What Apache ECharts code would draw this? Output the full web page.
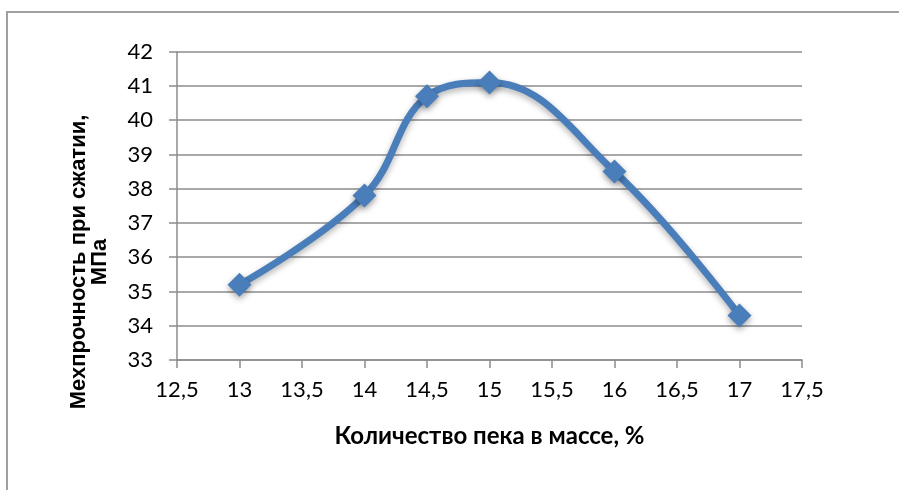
<!DOCTYPE html>
<html>
<head>
<meta charset="utf-8">
<script src="https://cdn.jsdelivr.net/npm/echarts@6/dist/echarts.min.js"></script>
<style>
  html, body { margin: 0; padding: 0; background: #ffffff; }
  #chart { width: 899px; height: 490px; }
</style>
</head>
<body>
<div id="chart"></div>
<script>
// Pitch content (% by mass) and compressive strength (MPa)
const pitchContent = [13, 14, 14.5, 15, 16, 17];
const strength = [35.2, 37.8, 40.7, 41.1, 38.5, 34.3];

const xTitle = 'Количество пека в массе, %';
const yTitleLines = ['Мехпрочность при сжатии,', 'МПа'];

const blue = '#4A7EBB';
const gridGray = '#8c8c8c';
const tickFont = 'Lato, "Open Sans", sans-serif';

const chart = echarts.init(document.getElementById('chart'));

chart.setOption({
  animation: false,
  backgroundColor: '#ffffff',
  grid: { left: 177, right: 97, top: 51.7, bottom: 130 },
  xAxis: {
    type: 'value',
    min: 12.5,
    max: 17.5,
    interval: 0.5,
    name: xTitle,
    nameLocation: 'middle',
    nameGap: 64,
    nameTextStyle: { fontFamily: tickFont, fontWeight: 'bold', fontSize: 24, color: '#000' },
    axisLine: { show: true, lineStyle: { color: gridGray, width: 1.5 } },
    axisTick: { show: true, length: 8, lineStyle: { color: gridGray, width: 1.5 } },
    axisLabel: {
      margin: 19,
      fontFamily: tickFont,
      fontSize: 22,
      color: '#000',
      formatter: v => String(v).replace('.', ',')
    },
    splitLine: { show: false }
  },
  yAxis: {
    type: 'value',
    min: 33,
    max: 42,
    interval: 1,
    axisLine: { show: true, lineStyle: { color: gridGray, width: 1.5 } },
    axisTick: { show: true, length: 8, lineStyle: { color: gridGray, width: 1.5 } },
    axisLabel: { margin: 24, fontFamily: tickFont, fontSize: 22, color: '#000' },
    splitLine: { show: true, lineStyle: { color: gridGray, width: 1.5 } }
  },
  series: [{
    type: 'line',
    data: pitchContent.map((x, i) => [x, strength[i]]),
    smooth: 0.4,
    symbol: 'diamond',
    symbolSize: 24,
    lineStyle: {
      color: blue, width: 7,
      shadowColor: 'rgba(0,0,0,0.3)', shadowBlur: 6, shadowOffsetY: 3
    },
    itemStyle: {
      color: blue, borderColor: blue, borderWidth: 0,
      shadowColor: 'rgba(0,0,0,0.35)', shadowBlur: 6, shadowOffsetY: 3
    }
  }],
  graphic: [
    {
      type: 'polyline',
      shape: { points: [[7, 490], [7, 12], [899, 12]] },
      style: { stroke: '#a0a0a0', lineWidth: 2, fill: null }
    },
    {
      type: 'text',
      x: 89,
      y: 262,
      rotation: Math.PI / 2,
      style: {
        text: yTitleLines.join('\n'),
        font: 'bold 22px "Liberation Sans", Arial, sans-serif',
        fill: '#000',
        align: 'center',
        verticalAlign: 'middle',
        lineHeight: 21
      }
    }
  ]
});
</script>
</body>
</html>
